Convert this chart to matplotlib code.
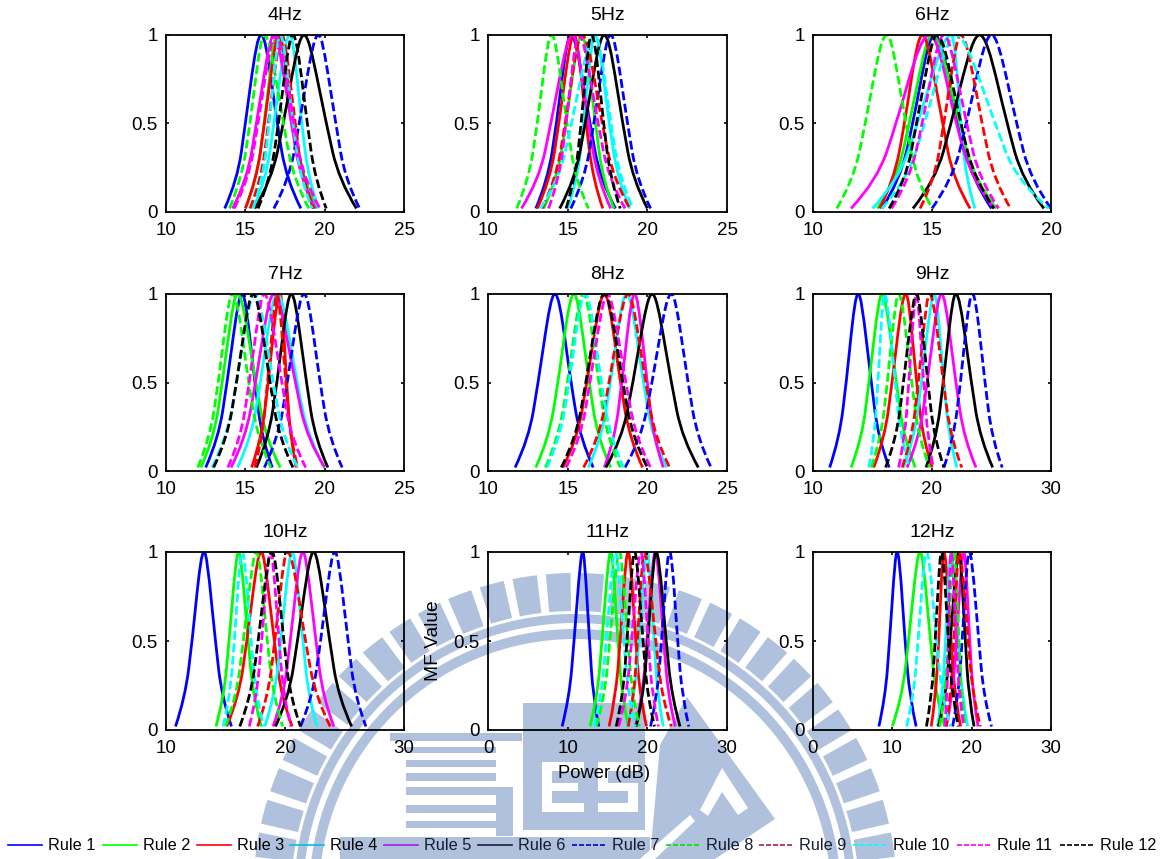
import matplotlib
matplotlib.use('Agg')
import matplotlib.pyplot as plt
from matplotlib.lines import Line2D
from matplotlib.path import Path
from matplotlib.patches import Wedge, Rectangle, Polygon, PathPatch

plt.rcParams['font.family'] = ['Liberation Sans', 'DejaVu Sans']

# MF value at each of the nine points
mf_levels = [0.02, 0.18, 0.5, 0.9, 1, 0.9, 0.5, 0.18, 0.02]

rule_names = ['Rule %d' % i for i in range(1, 13)]
rule_colors = ['#0000ff', '#00ff00', '#ff0000', '#00ffff', '#ff00ff', '#000000',
               '#0000ff', '#00ff00', '#ff0000', '#00ffff', '#ff00ff', '#000000']
rule_dashed = [False] * 6 + [True] * 6
# colours of the legend samples as they show through the watermark
legend_colors = ['#0000ff', '#00ff00', '#ff0000', '#00bfdc', '#a020e0', '#14203c',
                 '#0000e0', '#00e000', '#b01840', '#00ffff', '#ff00ff', '#000000']

# x position (dB) of each rule at the mf_levels, per panel
hz4 = [[13.7, 14.5, 15.0, 15.6, 16.0, 16.4, 17.0, 17.6, 18.5],
       [15.0, 15.7, 16.2, 16.7, 17.0, 17.4, 18.05, 18.65, 19.5],
       [15.0, 15.7, 16.2, 16.8, 17.1, 17.45, 18.0, 18.55, 19.3],
       [15.5, 16.3, 16.8, 17.4, 17.8, 18.1, 18.55, 19.0, 19.6],
       [14.2, 15.1, 15.7, 16.4, 16.8, 17.2, 17.9, 18.5, 19.4],
       [15.6, 16.65, 17.4, 18.2, 18.7, 19.2, 20.1, 20.9, 22.0],
       [16.8, 17.75, 18.4, 19.15, 19.6, 20.0, 20.7, 21.3, 22.2],
       [14.0, 14.75, 15.3, 15.85, 16.2, 16.65, 17.4, 18.05, 19.0],
       [15.3, 16.0, 16.45, 17.0, 17.3, 17.6, 18.15, 18.6, 19.3],
       [15.5, 16.1, 16.5, 16.95, 17.2, 17.5, 18.0, 18.5, 19.2],
       [14.3, 15.2, 15.8, 16.5, 16.9, 17.35, 18.05, 18.7, 19.7],
       [15.8, 16.55, 17.1, 17.65, 18.0, 18.35, 18.9, 19.4, 20.1]]
hz5 = [[13.0, 13.75, 14.3, 14.85, 15.2, 15.65, 16.4, 17.05, 18.0],
       [13.5, 14.3, 14.9, 15.5, 15.9, 16.2, 16.75, 17.2, 17.9],
       [13.1, 13.9, 14.45, 15.05, 15.4, 15.7, 16.15, 16.6, 17.2],
       [15.0, 15.6, 16.0, 16.45, 16.7, 17.05, 17.6, 18.15, 18.9],
       [12.1, 13.2, 13.95, 14.8, 15.3, 15.7, 16.3, 16.9, 17.7],
       [14.5, 15.45, 16.1, 16.85, 17.3, 17.75, 18.45, 19.1, 20.0],
       [15.2, 16.05, 16.65, 17.3, 17.7, 18.1, 18.75, 19.35, 20.2],
       [11.8, 12.55, 13.1, 13.65, 14.0, 14.35, 14.95, 15.5, 16.3],
       [13.4, 14.25, 14.85, 15.5, 15.9, 16.4, 17.15, 17.9, 18.9],
       [13.3, 14.45, 15.25, 16.15, 16.7, 17.1, 17.7, 18.3, 19.1],
       [13.8, 14.45, 14.9, 15.4, 15.7, 16.15, 16.9, 17.6, 18.6],
       [14.9, 15.45, 15.85, 16.25, 16.5, 16.8, 17.25, 17.7, 18.3]]
hz6 = [[12.9, 13.65, 14.2, 14.75, 15.1, 15.5, 16.1, 16.7, 17.5],
       [12.7, 13.5, 14.05, 14.65, 15.0, 15.45, 16.15, 16.8, 17.7],
       [12.8, 13.4, 13.85, 14.3, 14.6, 14.9, 15.45, 15.9, 16.6],
       [12.5, 13.6, 14.4, 15.3, 15.8, 16.0, 16.2, 16.45, 16.8],
       [11.6, 12.7, 13.5, 14.35, 14.9, 15.35, 16.0, 16.7, 17.6],
       [14.2, 15.15, 15.8, 16.55, 17.0, 17.45, 18.15, 18.8, 19.7],
       [15.0, 15.85, 16.45, 17.1, 17.5, 17.9, 18.55, 19.15, 20.0],
       [11.0, 11.7, 12.2, 12.75, 13.1, 13.4, 13.9, 14.35, 15.0],
       [14.5, 15.1, 15.5, 15.95, 16.2, 16.55, 17.1, 17.6, 18.3],
       [12.9, 13.95, 14.7, 15.5, 16.0, 16.6, 17.65, 18.55, 19.9],
       [13.3, 14.05, 14.6, 15.15, 15.5, 15.85, 16.45, 17.0, 17.8],
       [13.2, 13.9, 14.35, 14.9, 15.2, 15.6, 16.2, 16.8, 17.6]]
hz7 = [[12.5, 13.3, 13.85, 14.45, 14.8, 15.1, 15.6, 16.05, 16.7],
       [12.2, 13.0, 13.55, 14.15, 14.5, 14.95, 15.65, 16.3, 17.2],
       [15.4, 16.0, 16.45, 16.9, 17.2, 17.35, 17.6, 17.85, 18.2],
       [14.5, 15.35, 15.95, 16.6, 17.0, 17.5, 18.25, 19.0, 20.0],
       [14.1, 15.0, 15.65, 16.35, 16.8, 17.3, 18.15, 18.9, 20.0],
       [15.7, 16.45, 17.0, 17.55, 17.9, 18.25, 18.85, 19.4, 20.2],
       [16.2, 17.05, 17.65, 18.3, 18.7, 19.1, 19.7, 20.3, 21.1],
       [12.0, 12.75, 13.3, 13.85, 14.2, 14.6, 15.2, 15.8, 16.6],
       [15.6, 16.05, 16.4, 16.8, 17.0, 17.2, 17.55, 17.85, 18.3],
       [12.9, 13.8, 14.45, 15.15, 15.6, 16.05, 16.75, 17.4, 18.3],
       [13.9, 14.7, 15.25, 15.85, 16.2, 16.6, 17.3, 17.9, 18.8],
       [13.0, 13.85, 14.45, 15.1, 15.5, 15.9, 16.55, 17.15, 18.0]]
hz8 = [[11.7, 12.55, 13.15, 13.8, 14.2, 14.6, 15.2, 15.8, 16.6],
       [13.0, 13.8, 14.4, 15.0, 15.4, 15.75, 16.35, 16.9, 17.7],
       [14.7, 15.6, 16.2, 16.9, 17.3, 17.7, 18.3, 18.9, 19.7],
       [16.3, 17.1, 17.7, 18.3, 18.7, 19.1, 19.75, 20.35, 21.2],
       [17.3, 17.95, 18.4, 18.9, 19.2, 19.5, 20.0, 20.4, 21.0],
       [17.4, 18.4, 19.1, 19.85, 20.3, 20.75, 21.5, 22.2, 23.2],
       [18.6, 19.6, 20.3, 21.05, 21.5, 21.9, 22.55, 23.15, 24.0],
       [13.6, 14.4, 15.0, 15.6, 16.0, 16.35, 16.95, 17.5, 18.3],
       [16.0, 16.95, 17.6, 18.35, 18.8, 19.2, 19.9, 20.5, 21.4],
       [13.7, 14.5, 15.1, 15.7, 16.1, 16.5, 17.1, 17.7, 18.5],
       [14.9, 15.8, 16.4, 17.1, 17.5, 17.9, 18.65, 19.3, 20.2],
       [14.6, 15.5, 16.15, 16.85, 17.3, 17.75, 18.45, 19.1, 20.0]]
hz9 = [[11.4, 12.2, 12.8, 13.4, 13.8, 14.2, 14.9, 15.5, 16.4],
       [13.2, 14.1, 14.7, 15.4, 15.8, 16.25, 17.0, 17.65, 18.6],
       [15.1, 16.0, 16.65, 17.35, 17.8, 18.15, 18.7, 19.25, 20.0],
       [17.6, 18.5, 19.1, 19.8, 20.2, 20.5, 21.0, 21.45, 22.1],
       [17.9, 18.9, 19.6, 20.35, 20.8, 21.25, 22.0, 22.7, 23.7],
       [19.5, 20.35, 20.95, 21.6, 22.0, 22.5, 23.3, 24.05, 25.1],
       [21.0, 21.8, 22.4, 23.0, 23.4, 23.8, 24.45, 25.05, 25.9],
       [14.9, 15.7, 16.25, 16.85, 17.2, 17.6, 18.3, 18.9, 19.8],
       [17.5, 18.3, 18.85, 19.45, 19.8, 20.25, 20.95, 21.6, 22.5],
       [14.7, 15.15, 15.45, 15.8, 16.0, 16.35, 16.9, 17.4, 18.1],
       [17.2, 17.7, 18.05, 18.45, 18.7, 18.9, 19.3, 19.65, 20.1],
       [16.1, 17.0, 17.6, 18.3, 18.7, 19.05, 19.65, 20.2, 21.0]]
hz10 = [[10.8, 11.6, 12.2, 12.8, 13.2, 13.55, 14.15, 14.7, 15.5],
        [14.2, 14.85, 15.3, 15.8, 16.1, 16.4, 16.9, 17.35, 18.0],
        [15.1, 16.1, 16.8, 17.55, 18.0, 18.4, 19.1, 19.7, 20.6],
        [18.3, 19.1, 19.65, 20.25, 20.6, 20.95, 21.5, 22.0, 22.7],
        [19.0, 19.85, 20.45, 21.1, 21.5, 21.9, 22.6, 23.2, 24.1],
        [19.2, 20.3, 21.05, 21.9, 22.4, 22.9, 23.75, 24.5, 25.6],
        [21.3, 22.3, 23.0, 23.75, 24.2, 24.6, 25.3, 25.9, 26.8],
        [15.0, 15.9, 16.5, 17.2, 17.6, 17.95, 18.5, 19.05, 19.8],
        [17.7, 18.55, 19.15, 19.8, 20.2, 20.8, 21.7, 22.6, 23.8],
        [14.8, 15.35, 15.75, 16.15, 16.4, 16.7, 17.15, 17.6, 18.2],
        [17.0, 17.6, 18.05, 18.5, 18.8, 19.05, 19.5, 19.9, 20.5],
        [16.2, 17.1, 17.75, 18.45, 18.9, 19.3, 19.9, 20.45, 21.3]]
hz11 = [[9.3, 10.2, 10.8, 11.5, 11.9, 12.2, 12.75, 13.2, 13.9],
        [12.8, 13.7, 14.3, 15.0, 15.4, 15.75, 16.3, 16.85, 17.6],
        [15.2, 16.0, 16.6, 17.2, 17.6, 17.95, 18.55, 19.1, 19.9],
        [17.5, 18.35, 18.95, 19.6, 20.0, 20.3, 20.85, 21.3, 22.0],
        [18.5, 19.35, 19.95, 20.6, 21.0, 21.4, 22.05, 22.65, 23.5],
        [18.6, 19.45, 20.05, 20.7, 21.1, 21.6, 22.35, 23.1, 24.1],
        [20.4, 21.2, 21.8, 22.4, 22.8, 23.2, 23.8, 24.4, 25.2],
        [13.6, 14.6, 15.3, 16.05, 16.5, 16.9, 17.55, 18.15, 19.0],
        [17.6, 18.3, 18.75, 19.3, 19.6, 20.15, 21.05, 21.85, 23.0],
        [13.3, 14.2, 14.85, 15.55, 16.0, 16.4, 17.05, 17.65, 18.5],
        [16.4, 17.35, 18.05, 18.75, 19.2, 19.55, 20.1, 20.65, 21.4],
        [16.1, 16.9, 17.45, 18.05, 18.4, 18.8, 19.45, 20.05, 20.9]]
hz12 = [[8.3, 9.1, 9.65, 10.25, 10.6, 11.0, 11.6, 12.2, 13.0],
        [10.0, 11.2, 12.05, 12.95, 13.5, 14.0, 14.8, 15.55, 16.6],
        [14.9, 15.45, 15.85, 16.25, 16.5, 16.85, 17.4, 17.9, 18.6],
        [15.7, 16.3, 16.7, 17.15, 17.4, 17.75, 18.3, 18.8, 19.5],
        [16.8, 17.55, 18.1, 18.65, 19.0, 19.3, 19.75, 20.2, 20.8],
        [15.8, 16.7, 17.3, 18.0, 18.4, 18.7, 19.2, 19.65, 20.3],
        [17.6, 18.3, 18.8, 19.35, 19.7, 20.15, 20.9, 21.55, 22.5],
        [16.0, 16.6, 17.05, 17.5, 17.8, 18.0, 18.4, 18.7, 19.2],
        [16.8, 17.35, 17.75, 18.15, 18.4, 18.85, 19.55, 20.2, 21.1],
        [11.8, 12.65, 13.25, 13.9, 14.3, 14.8, 15.55, 16.3, 17.3],
        [16.6, 16.9, 17.05, 17.25, 17.4, 17.65, 18.05, 18.45, 19.0],
        [14.3, 14.95, 15.4, 15.9, 16.2, 16.55, 17.05, 17.6, 18.3]]

panel_data = [hz4, hz5, hz6, hz7, hz8, hz9, hz10, hz11, hz12]
panel_titles = ['4Hz', '5Hz', '6Hz', '7Hz', '8Hz', '9Hz', '10Hz', '11Hz', '12Hz']
panel_xlims = [(10, 25), (10, 25), (10, 20), (10, 25), (10, 25), (10, 30),
               (10, 30), (0, 30), (0, 30)]
panel_xticks = [[10, 15, 20, 25], [10, 15, 20, 25], [10, 15, 20],
                [10, 15, 20, 25], [10, 15, 20, 25], [10, 20, 30],
                [10, 20, 30], [0, 10, 20, 30], [0, 10, 20, 30]]

W, H = 1168, 859
col_x = [(166, 404), (488, 727), (813, 1051)]
row_y = [(35, 212), (294, 471), (552, 730)]
mark = '#B0C1DE'


def mid(a, b):
    return ((a[0] + b[0]) / 2, (a[1] + b[1]) / 2)


def curve_path(xs, ys):
    # nine read points: smooth flanks through them, with the top landing on the peak point
    p = list(zip(xs, ys))
    top_l = ((p[3][0] + p[4][0]) / 2, p[4][1])
    top_r = ((p[4][0] + p[5][0]) / 2, p[4][1])
    verts = [p[0], p[1], mid(p[1], p[2]), p[2], mid(p[2], p[3]),
             p[3], top_l, p[4], top_r, p[5], mid(p[5], p[6]),
             p[6], mid(p[6], p[7]), p[7], p[8]]
    codes = [Path.MOVETO] + [Path.CURVE3] * 4 + [Path.CURVE4] * 6 + [Path.CURVE3] * 4
    return Path(verts, codes)


def px_axes(fig, x0, x1, y0, y1):
    return fig.add_axes([x0 / W, 1 - y1 / H, (x1 - x0) / W, (y1 - y0) / H])


def add_watermark(fig):
    # logo behind the charts, in pixel coordinates of the figure
    bg = fig.add_axes([0, 0, 1, 1], zorder=-1)
    bg.set_xlim(0, W)
    bg.set_ylim(H, 0)
    bg.axis('off')
    cx, cy = 575, 895
    # Wedge angles are flipped because the y axis points down
    for a in range(180, 360, 6):
        bg.add_patch(Wedge((cx, cy), 322, a + 0.8, a + 5.2, width=38, fc=mark, ec='none'))
    bg.add_patch(Wedge((cx, cy), 281, 180, 360, width=9, fc=mark, ec='none'))
    bg.add_patch(Wedge((cx, cy), 266, 180, 360, width=10, fc=mark, ec='none'))
    # stripes of the T
    for y0, y1 in [(747, 753), (760, 767), (773, 781), (787, 795),
                   (805, 813), (821, 828)]:
        bg.add_patch(Rectangle((406, y0), 90, y1 - y0, fc=mark, ec='none'))
    bg.add_patch(Rectangle((390, 733), 132, 8, fc=mark, ec='none'))
    bg.add_patch(Rectangle((496, 787), 17, 49, fc=mark, ec='none'))
    # block with E and S
    bg.add_patch(Rectangle((523, 703), 122, 127, fc=mark, ec='none'))
    for x0, y0, w, h in [(542, 762, 42, 9), (542, 762, 10, 50), (542, 783, 36, 8),
                         (542, 803, 42, 9), (598, 762, 40, 9), (598, 762, 10, 28),
                         (598, 783, 40, 8), (628, 783, 10, 28), (598, 803, 40, 9)]:
        bg.add_patch(Rectangle((x0, y0), w, h, fc='white', ec='none'))
    # block with A
    bg.add_patch(Polygon([(660, 745), (687, 697), (775, 819), (715, 859), (650, 859)],
                         fc=mark, ec='none'))
    bg.add_patch(Polygon([(700, 810), (722, 768), (748, 808), (738, 815), (722, 792), (708, 816)],
                         fc='white', ec='none'))
    # foot of the logo
    bg.add_patch(Rectangle((340, 837), 310, 22, fc=mark, ec='none'))
    bg.add_patch(Polygon([(640, 859), (690, 815), (695, 821), (655, 859)], fc='white', ec='none'))


fig = plt.figure(figsize=(W / 100, H / 100), dpi=100)
add_watermark(fig)

for i, curves in enumerate(panel_data):
    row, col = i // 3, i % 3
    ax = px_axes(fig, col_x[col][0], col_x[col][1], row_y[row][0], row_y[row][1])
    ax.patch.set_alpha(0)
    for j, xs in enumerate(curves):
        ls = (0, (3.2, 1.3)) if rule_dashed[j] else '-'
        ax.add_patch(PathPatch(curve_path(xs, mf_levels), fill=False,
                               ec=rule_colors[j], lw=2.0, ls=ls))
    ax.set_xlim(panel_xlims[i])
    ax.set_ylim(0, 1)
    ax.set_xticks(panel_xticks[i])
    ax.set_yticks([0, 0.5, 1])
    ax.set_yticklabels(['0', '0.5', '1'])
    ax.tick_params(direction='in', length=2.5, width=1.2, top=True, right=True,
                   labelsize=13.5, colors='k')
    ax.tick_params(axis='x', pad=7)
    ax.tick_params(axis='y', pad=6)
    for s in ax.spines.values():
        s.set_linewidth(1.3)
    ax.set_title(panel_titles[i], fontsize=14, pad=11)

fig.text(433 / W, 1 - 641 / H, 'MF Value', rotation=90, fontsize=13.8, ha='center', va='center')
fig.text(604 / W, 1 - 773 / H, 'Power (dB)', fontsize=13.2, ha='center', va='center')

# legend row along the bottom edge
line_x0 = [8, 103, 197, 290, 384, 478, 572, 666, 759, 853, 957, 1060]
text_dark = [False, False, False, False, True, True, True, True, True, False, False, False]
for k, name in enumerate(rule_names):
    x0 = line_x0[k]
    fig.add_artist(Line2D([x0 / W, (x0 + 34) / W], [1 - 845 / H, 1 - 845 / H],
                          color=legend_colors[k], lw=1.2,
                          ls=(0, (3, 1.2)) if rule_dashed[k] else '-'))
    fig.text((x0 + 40) / W, 1 - 845 / H, name, fontsize=11.7, va='center',
             color='#141c30' if text_dark[k] else 'k')

fig.savefig('out.png', dpi=100)
